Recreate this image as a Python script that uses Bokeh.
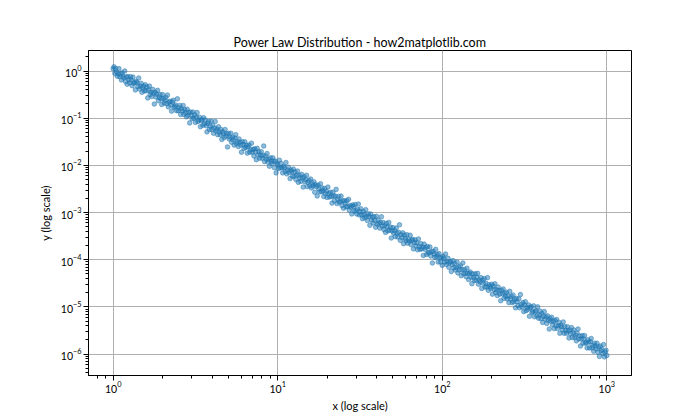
import numpy as np
from bokeh.plotting import figure
from bokeh.models import Range1d, FixedTicker
from bokeh.embed import file_html
from bokeh.resources import INLINE

title_text = "Power Law Distribution - how2matplotlib.com"
x_label = "x (log scale)"
y_label = "y (log scale)"
x_tick_values = [1, 10, 100, 1000]
y_tick_values = [1e-6, 1e-5, 1e-4, 1e-3, 1e-2, 1e-1, 1]

# point positions, as powers of ten
log10_x = [
    0.000, 0.005, 0.010, 0.015, 0.020, 0.025, 0.030, 0.035, 0.040, 0.045, 0.050, 0.055, 0.060, 0.065, 0.070, 0.075, 0.080, 0.085, 0.090, 0.095,
    0.100, 0.105, 0.110, 0.115, 0.120, 0.125, 0.130, 0.135, 0.140, 0.145, 0.150, 0.155, 0.160, 0.165, 0.170, 0.175, 0.180, 0.185, 0.190, 0.195,
    0.200, 0.205, 0.210, 0.215, 0.220, 0.225, 0.230, 0.235, 0.240, 0.245, 0.250, 0.255, 0.260, 0.265, 0.270, 0.275, 0.280, 0.285, 0.290, 0.295,
    0.300, 0.305, 0.310, 0.315, 0.320, 0.325, 0.330, 0.335, 0.340, 0.345, 0.350, 0.355, 0.360, 0.365, 0.370, 0.375, 0.380, 0.385, 0.390, 0.395,
    0.400, 0.405, 0.410, 0.415, 0.420, 0.425, 0.430, 0.435, 0.440, 0.445, 0.450, 0.455, 0.460, 0.465, 0.470, 0.475, 0.480, 0.485, 0.490, 0.495,
    0.500, 0.505, 0.510, 0.515, 0.520, 0.525, 0.530, 0.535, 0.540, 0.545, 0.550, 0.555, 0.560, 0.565, 0.570, 0.575, 0.580, 0.585, 0.590, 0.595,
    0.600, 0.605, 0.610, 0.615, 0.620, 0.625, 0.630, 0.635, 0.640, 0.645, 0.650, 0.655, 0.660, 0.665, 0.670, 0.675, 0.680, 0.685, 0.690, 0.695,
    0.700, 0.705, 0.710, 0.715, 0.720, 0.725, 0.730, 0.735, 0.740, 0.745, 0.750, 0.755, 0.760, 0.765, 0.770, 0.775, 0.780, 0.785, 0.790, 0.795,
    0.800, 0.805, 0.810, 0.815, 0.820, 0.825, 0.830, 0.835, 0.840, 0.845, 0.850, 0.855, 0.860, 0.865, 0.870, 0.875, 0.880, 0.885, 0.890, 0.895,
    0.900, 0.905, 0.910, 0.915, 0.920, 0.925, 0.930, 0.935, 0.940, 0.945, 0.950, 0.955, 0.960, 0.965, 0.970, 0.975, 0.980, 0.985, 0.990, 0.995,
    1.000, 1.005, 1.010, 1.015, 1.020, 1.025, 1.030, 1.035, 1.040, 1.045, 1.050, 1.055, 1.060, 1.065, 1.070, 1.075, 1.080, 1.085, 1.090, 1.095,
    1.100, 1.105, 1.110, 1.115, 1.120, 1.125, 1.130, 1.135, 1.140, 1.145, 1.150, 1.155, 1.160, 1.165, 1.170, 1.175, 1.180, 1.185, 1.190, 1.195,
    1.200, 1.205, 1.210, 1.215, 1.220, 1.225, 1.230, 1.235, 1.240, 1.245, 1.250, 1.255, 1.260, 1.265, 1.270, 1.275, 1.280, 1.285, 1.290, 1.295,
    1.300, 1.305, 1.310, 1.315, 1.320, 1.325, 1.330, 1.335, 1.340, 1.345, 1.350, 1.355, 1.360, 1.365, 1.370, 1.375, 1.380, 1.385, 1.390, 1.395,
    1.400, 1.405, 1.410, 1.415, 1.420, 1.425, 1.430, 1.435, 1.440, 1.445, 1.450, 1.455, 1.460, 1.465, 1.470, 1.475, 1.480, 1.485, 1.490, 1.495,
    1.500, 1.505, 1.510, 1.515, 1.520, 1.525, 1.530, 1.535, 1.540, 1.545, 1.550, 1.555, 1.560, 1.565, 1.570, 1.575, 1.580, 1.585, 1.590, 1.595,
    1.600, 1.605, 1.610, 1.615, 1.620, 1.625, 1.630, 1.635, 1.640, 1.645, 1.650, 1.655, 1.660, 1.665, 1.670, 1.675, 1.680, 1.685, 1.690, 1.695,
    1.700, 1.705, 1.710, 1.715, 1.720, 1.725, 1.730, 1.735, 1.740, 1.745, 1.750, 1.755, 1.760, 1.765, 1.770, 1.775, 1.780, 1.785, 1.790, 1.795,
    1.800, 1.805, 1.810, 1.815, 1.820, 1.825, 1.830, 1.835, 1.840, 1.845, 1.850, 1.855, 1.860, 1.865, 1.870, 1.875, 1.880, 1.885, 1.890, 1.895,
    1.900, 1.905, 1.910, 1.915, 1.920, 1.925, 1.930, 1.935, 1.940, 1.945, 1.950, 1.955, 1.960, 1.965, 1.970, 1.975, 1.980, 1.985, 1.990, 1.995,
    2.000, 2.005, 2.010, 2.015, 2.020, 2.025, 2.030, 2.035, 2.040, 2.045, 2.050, 2.055, 2.060, 2.065, 2.070, 2.075, 2.080, 2.085, 2.090, 2.095,
    2.100, 2.105, 2.110, 2.115, 2.120, 2.125, 2.130, 2.135, 2.140, 2.145, 2.150, 2.155, 2.160, 2.165, 2.170, 2.175, 2.180, 2.185, 2.190, 2.195,
    2.200, 2.205, 2.210, 2.215, 2.220, 2.225, 2.230, 2.235, 2.240, 2.245, 2.250, 2.255, 2.260, 2.265, 2.270, 2.275, 2.280, 2.285, 2.290, 2.295,
    2.300, 2.305, 2.310, 2.315, 2.320, 2.325, 2.330, 2.335, 2.340, 2.345, 2.350, 2.355, 2.360, 2.365, 2.370, 2.375, 2.380, 2.385, 2.390, 2.395,
    2.400, 2.405, 2.410, 2.415, 2.420, 2.425, 2.430, 2.435, 2.440, 2.445, 2.450, 2.455, 2.460, 2.465, 2.470, 2.475, 2.480, 2.485, 2.490, 2.495,
    2.500, 2.505, 2.510, 2.515, 2.520, 2.525, 2.530, 2.535, 2.540, 2.545, 2.550, 2.555, 2.560, 2.565, 2.570, 2.575, 2.580, 2.585, 2.590, 2.595,
    2.600, 2.605, 2.610, 2.615, 2.620, 2.625, 2.630, 2.635, 2.640, 2.645, 2.650, 2.655, 2.660, 2.665, 2.670, 2.675, 2.680, 2.685, 2.690, 2.695,
    2.700, 2.705, 2.710, 2.715, 2.720, 2.725, 2.730, 2.735, 2.740, 2.745, 2.750, 2.755, 2.760, 2.765, 2.770, 2.775, 2.780, 2.785, 2.790, 2.795,
    2.800, 2.805, 2.810, 2.815, 2.820, 2.825, 2.830, 2.835, 2.840, 2.845, 2.850, 2.855, 2.860, 2.865, 2.870, 2.875, 2.880, 2.885, 2.890, 2.895,
    2.900, 2.905, 2.910, 2.915, 2.920, 2.925, 2.930, 2.935, 2.940, 2.945, 2.950, 2.955, 2.960, 2.965, 2.970, 2.975, 2.980, 2.985, 2.990, 2.995,
    3.000,
]

log10_y = [
    0.05, 0.09, -0.05, 0.05, -0.02, -0.11, -0.06, 0.05, -0.12, -0.06, -0.19, -0.04, -0.11, -0.15, 0.00, -0.22, -0.12, -0.28, -0.12, -0.19,
    -0.25, -0.12, -0.19, -0.31, -0.13, -0.26, -0.24, -0.40, -0.22, -0.25, -0.33, -0.15, -0.38, -0.32, -0.26, -0.45, -0.36, -0.32, -0.42, -0.29,
    -0.42, -0.34, -0.57, -0.40, -0.32, -0.50, -0.45, -0.54, -0.39, -0.47, -0.70, -0.45, -0.55, -0.49, -0.41, -0.63, -0.56, -0.50, -0.59, -0.71,
    -0.50, -0.58, -0.68, -0.62, -0.56, -0.69, -0.51, -0.76, -0.66, -0.64, -0.72, -0.85, -0.66, -0.62, -0.77, -0.75, -0.72, -0.84, -0.59, -0.84,
    -0.78, -0.73, -0.92, -0.80, -0.85, -0.73, -0.92, -0.82, -0.88, -0.97, -0.81, -0.94, -0.88, -1.10, -0.87, -0.94, -1.01, -0.87, -1.00, -0.93,
    -1.09, -0.98, -0.88, -1.07, -1.04, -0.98, -1.18, -1.05, -1.03, -1.15, -0.99, -1.12, -1.04, -1.16, -1.29, -1.11, -1.07, -1.24, -1.17, -1.06,
    -1.24, -1.15, -1.32, -1.21, -1.07, -1.27, -1.23, -1.35, -1.18, -1.29, -1.35, -1.24, -1.45, -1.29, -1.33, -1.41, -1.24, -1.38, -1.33, -1.61,
    -1.32, -1.44, -1.40, -1.32, -1.51, -1.41, -1.46, -1.57, -1.42, -1.35, -1.54, -1.50, -1.60, -1.44, -1.51, -1.57, -1.72, -1.50, -1.56, -1.64,
    -1.50, -1.62, -1.57, -1.74, -1.61, -1.57, -1.72, -1.67, -1.53, -1.72, -1.66, -1.80, -1.65, -1.71, -1.88, -1.64, -1.78, -1.71, -1.85, -1.78,
    -1.71, -1.85, -1.79, -1.59, -1.92, -1.80, -1.87, -1.75, -1.93, -1.87, -2.02, -1.84, -1.92, -1.96, -1.84, -1.91, -2.05, -1.91, -2.16, -1.96,
    -1.99, -2.07, -1.89, -2.05, -1.96, -2.05, -2.16, -2.02, -2.05, -2.13, -1.94, -2.18, -2.10, -2.04, -2.15, -2.28, -2.10, -2.13, -2.23, -2.08,
    -2.23, -2.14, -2.30, -2.21, -2.12, -2.36, -2.21, -2.27, -2.34, -2.19, -2.27, -2.46, -2.24, -2.35, -2.30, -2.21, -2.45, -2.36, -2.32, -2.43,
    -2.29, -2.48, -2.39, -2.44, -2.35, -2.57, -2.41, -2.45, -2.65, -2.42, -2.50, -2.56, -2.39, -2.56, -2.48, -2.54, -2.66, -2.49, -2.60, -2.55,
    -2.68, -2.46, -2.60, -2.67, -2.57, -2.66, -2.80, -2.57, -2.65, -2.75, -2.65, -2.51, -2.81, -2.72, -2.66, -2.78, -2.76, -2.65, -2.85, -2.75,
    -2.91, -2.75, -2.80, -2.88, -2.75, -2.87, -2.72, -2.95, -2.85, -2.89, -3.03, -2.84, -2.87, -2.97, -2.83, -2.96, -3.03, -2.93, -2.82, -3.05,
    -2.98, -2.92, -3.05, -3.13, -2.98, -3.04, -3.11, -2.94, -3.08, -3.17, -3.03, -3.08, -3.27, -3.03, -3.16, -3.10, -3.22, -3.09, -3.17, -3.31,
    -3.08, -3.25, -3.16, -3.23, -3.33, -3.21, -3.09, -3.29, -3.21, -3.36, -3.28, -3.42, -3.23, -3.30, -3.39, -3.21, -3.37, -3.31, -3.54, -3.39,
    -3.32, -3.44, -3.38, -3.51, -3.33, -3.44, -3.52, -3.42, -3.26, -3.59, -3.47, -3.53, -3.43, -3.66, -3.48, -3.55, -3.60, -3.47, -3.65, -3.57,
    -3.61, -3.48, -3.68, -3.59, -3.57, -3.77, -3.64, -3.58, -3.71, -3.64, -3.79, -3.56, -3.72, -3.78, -3.66, -3.77, -3.73, -3.91, -3.67, -3.78,
    -3.74, -3.89, -3.72, -3.86, -3.84, -3.73, -3.92, -3.83, -4.07, -3.82, -3.88, -3.95, -3.78, -3.94, -3.89, -4.05, -3.87, -3.96, -4.05, -3.96,
    -4.12, -3.93, -3.98, -4.05, -3.88, -4.10, -4.05, -3.97, -4.16, -4.06, -4.04, -4.25, -4.10, -4.02, -4.17, -4.08, -4.22, -4.17, -4.05, -4.28,
    -4.15, -4.22, -4.13, -4.34, -4.21, -4.07, -4.30, -4.21, -4.28, -4.36, -4.18, -4.29, -4.42, -4.29, -4.26, -4.37, -4.51, -4.30, -4.37, -4.44,
    -4.30, -4.44, -4.37, -4.29, -4.52, -4.43, -4.47, -4.38, -4.61, -4.43, -4.50, -4.40, -4.58, -4.50, -4.58, -4.38, -4.65, -4.53, -4.57, -4.61,
    -4.52, -4.73, -4.56, -4.63, -4.51, -4.70, -4.64, -4.76, -4.58, -4.65, -4.73, -4.87, -4.65, -4.72, -4.62, -4.82, -4.71, -4.78, -4.69, -4.83,
    -4.77, -4.91, -4.67, -4.83, -4.78, -4.91, -4.75, -4.89, -4.84, -5.02, -4.82, -4.89, -4.97, -4.83, -5.02, -4.74, -4.95, -5.00, -4.91, -5.10,
    -4.96, -4.89, -5.08, -5.01, -5.05, -4.96, -5.20, -5.02, -5.00, -5.12, -5.10, -4.98, -5.21, -5.10, -5.08, -5.19, -5.00, -5.24, -5.17, -5.09,
    -5.25, -5.14, -5.33, -5.20, -5.10, -5.26, -5.21, -5.35, -5.19, -5.29, -5.47, -5.25, -5.30, -5.22, -5.38, -5.31, -5.46, -5.29, -5.40, -5.27,
    -5.46, -5.40, -5.33, -5.56, -5.39, -5.42, -5.49, -5.32, -5.56, -5.42, -5.50, -5.56, -5.42, -5.51, -5.66, -5.49, -5.57, -5.44, -5.65, -5.55,
    -5.49, -5.65, -5.60, -5.72, -5.56, -5.47, -5.68, -5.62, -5.83, -5.68, -5.61, -5.77, -5.68, -5.61, -5.77, -5.75, -5.87, -5.70, -5.75, -5.87,
    -5.74, -5.67, -5.87, -5.82, -5.94, -5.77, -5.83, -5.89, -5.77, -5.96, -5.85, -6.05, -5.83, -5.93, -5.90, -5.99, -5.80, -6.06, -5.96, -5.92,
    -6.03,
]

x = 10.0 ** np.array(log10_x)
y = 10.0 ** np.array(log10_y)

FONT = "Lato"
BLUE = "#1f77b4"

p = figure(
    x_axis_type="log", y_axis_type="log",
    x_range=Range1d(10 ** -0.15, 10 ** 3.15),
    y_range=Range1d(10 ** -6.455, 10 ** 0.435),
    frame_width=543, frame_height=325,
    min_border_left=88, min_border_top=50, min_border_right=40, min_border_bottom=20,
    title=title_text,
    output_backend="svg", toolbar_location=None,
    background_fill_color="white", border_fill_color="white",
)

p.title.align = "center"
p.title.text_font = FONT
p.title.text_font_size = "12.5px"
p.title.text_font_style = "normal"
p.title.text_color = "black"
p.title.standoff = 2

p.outline_line_color = "black"
p.outline_line_width = 1
p.outline_line_alpha = 1

minor_x = [m * 10.0 ** k for k in range(-1, 4) for m in range(2, 10)]
minor_y = [m * 10.0 ** k for k in range(-7, 1) for m in range(2, 10)]
p.xaxis.ticker = FixedTicker(ticks=x_tick_values, minor_ticks=minor_x)
p.yaxis.ticker = FixedTicker(ticks=y_tick_values, minor_ticks=minor_y)

for ax in (p.xaxis[0], p.yaxis[0]):
    ax.axis_line_color = "black"
    ax.major_tick_line_color = "black"
    ax.minor_tick_line_color = "black"
    ax.major_tick_in = 0
    ax.major_tick_out = 5
    ax.minor_tick_in = 0
    ax.minor_tick_out = 3
    ax.major_label_text_font = FONT
    ax.major_label_text_font_size = "10.5px"
    ax.major_label_text_color = "black"
    ax.axis_label_text_font = FONT
    ax.axis_label_text_font_size = "11px"
    ax.axis_label_text_font_style = "normal"
    ax.axis_label_text_color = "black"

p.xaxis.axis_label = x_label
p.yaxis.axis_label = y_label
p.xaxis.major_label_standoff = 0
p.yaxis.major_label_standoff = 2
p.xaxis.axis_label_standoff = 3
p.yaxis.axis_label_standoff = 6

for g in (p.xgrid[0], p.ygrid[0]):
    g.grid_line_color = "#b0b0b0"
    g.grid_line_width = 1

p.scatter(x, y, size=4.6, fill_color=BLUE, line_color=BLUE,
          fill_alpha=0.5, line_alpha=0.5, line_width=1)

open("out.html", "w").write(file_html(p, INLINE))
